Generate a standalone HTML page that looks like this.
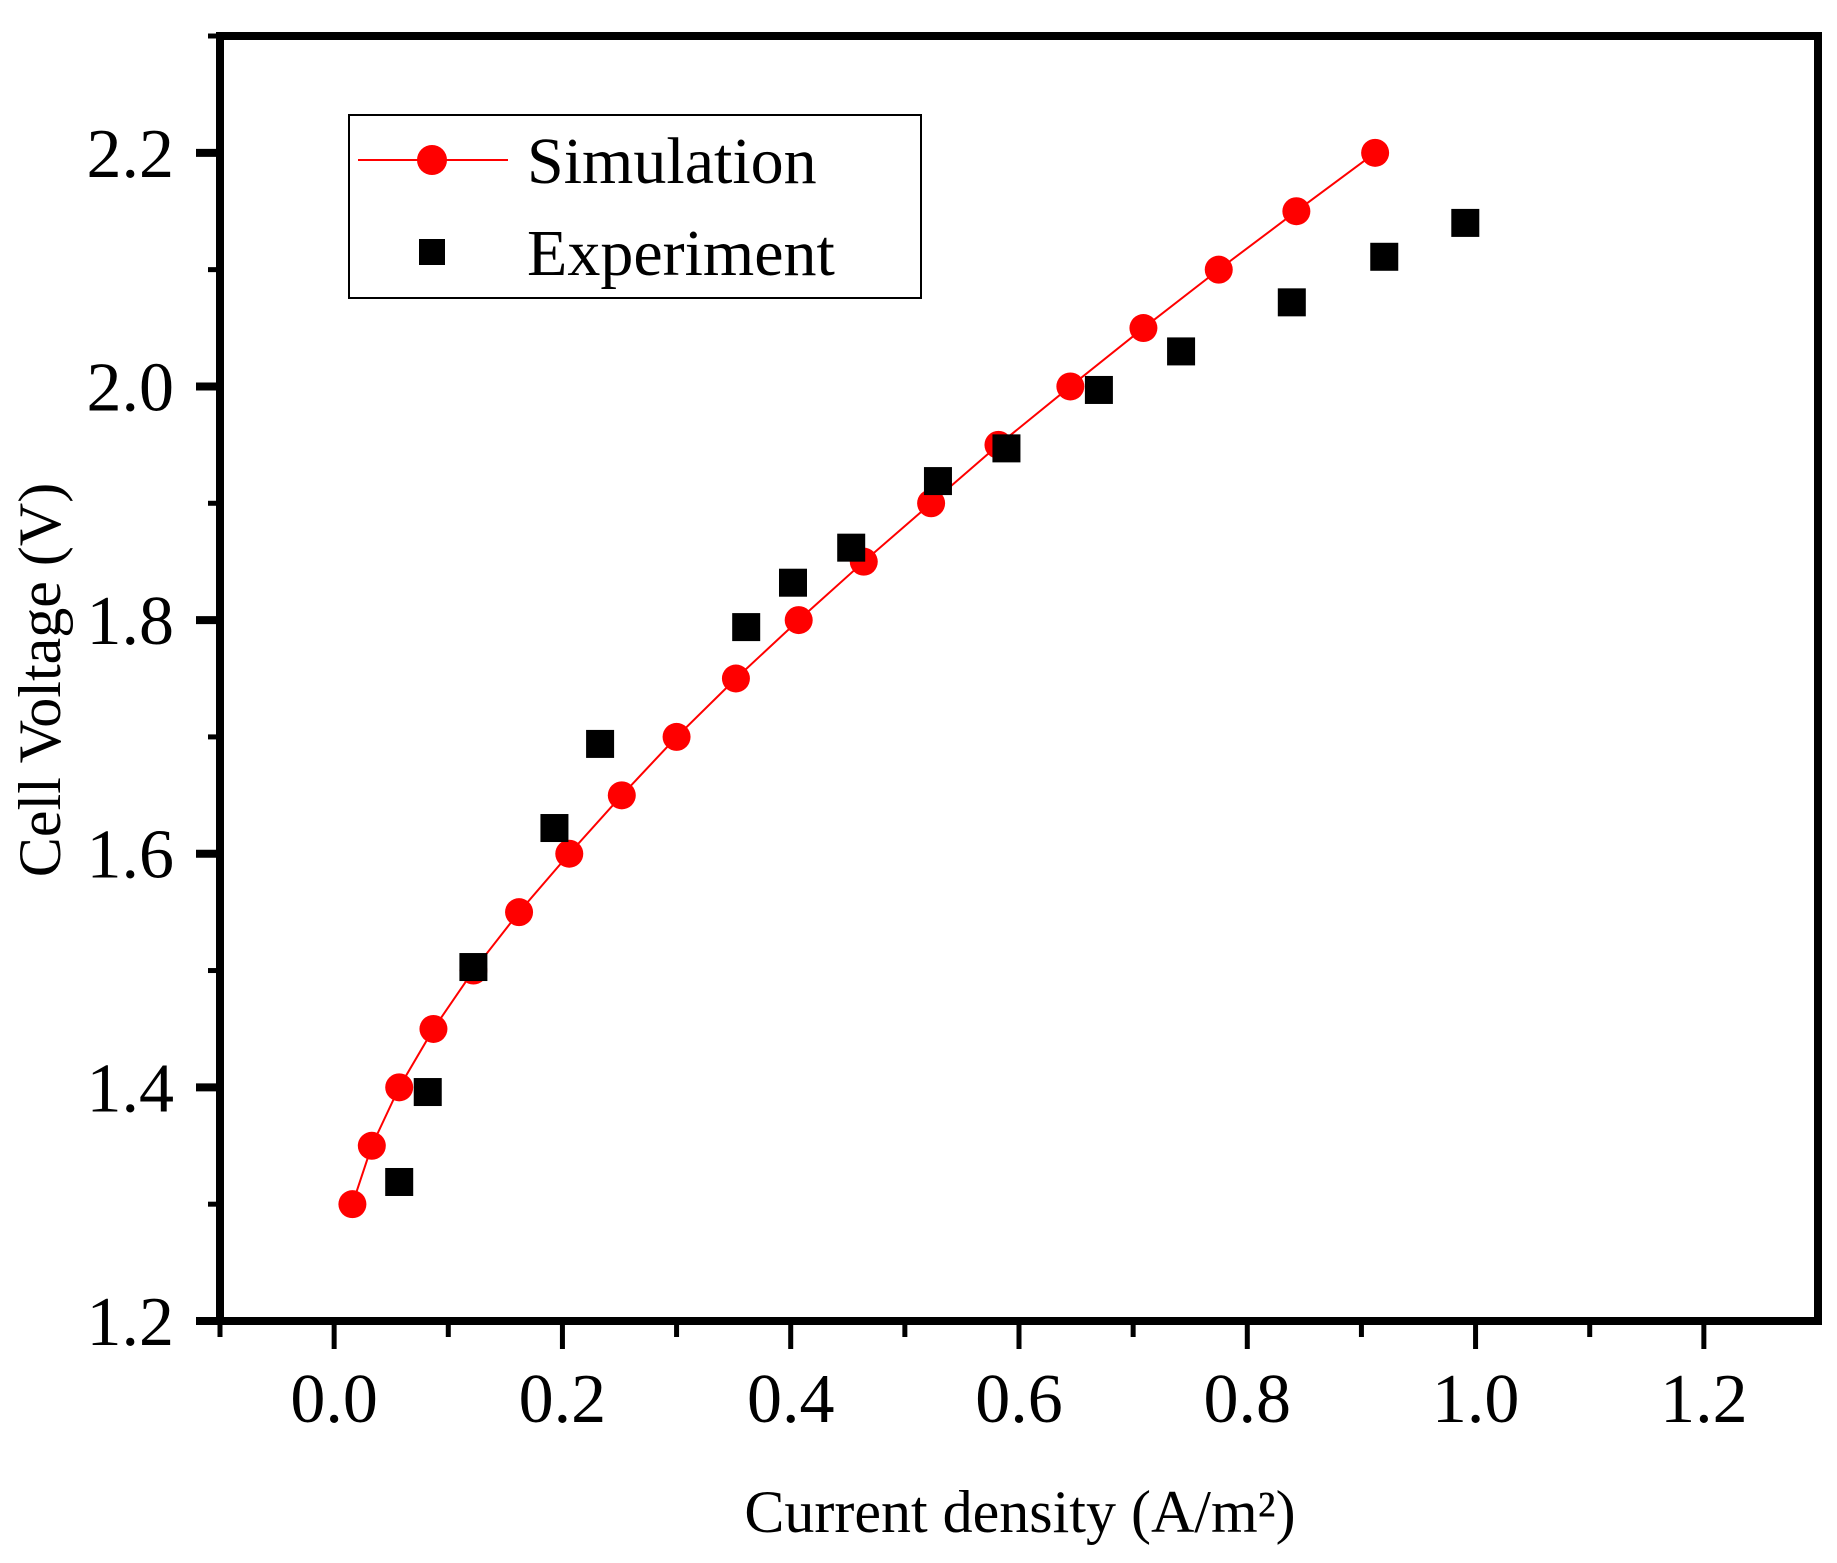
<!DOCTYPE html>
<html><head><meta charset="utf-8"><style>
html,body{margin:0;padding:0;background:#fff;}
svg{display:block;font-family:"Liberation Serif",serif;}
</style></head><body>
<svg id="chart" width="1837" height="1563" viewBox="0 0 1837 1563" xmlns="http://www.w3.org/2000/svg">
<g id="ticks"></g>
<g id="series"></g>
<rect x="220" y="36" width="1598" height="1285" fill="none" stroke="#000" stroke-width="8"/>
<text x="1020" y="1532" font-size="60" text-anchor="middle">Current density (A/m²)</text>
<text transform="translate(60,680) rotate(-90)" font-size="60" text-anchor="middle">Cell Voltage (V)</text>
<g>
<rect x="349" y="115" width="572" height="183" fill="#fff" stroke="#000" stroke-width="2"/>
<line x1="358" y1="160" x2="508" y2="160" stroke="#f00" stroke-width="2"/>
<circle cx="432" cy="160" r="15" fill="#f00"/>
<text x="527" y="183" font-size="66">Simulation</text>
<rect x="419" y="239" width="26" height="26" fill="#000"/>
<text x="527" y="275" font-size="66">Experiment</text>
</g>
</svg>
<script>
const simX=[0.016,0.033,0.057,0.087,0.122,0.162,0.206,0.252,0.300,0.352,0.407,0.464,0.523,0.582,0.645,0.709,0.775,0.843,0.912];
const simY=[1.30,1.35,1.40,1.45,1.50,1.55,1.60,1.65,1.70,1.75,1.80,1.85,1.90,1.95,2.00,2.05,2.10,2.15,2.20];
const expX=[0.057,0.082,0.122,0.193,0.233,0.361,0.402,0.453,0.529,0.589,0.670,0.742,0.839,0.920,0.991];
const expY=[1.319,1.396,1.503,1.622,1.694,1.794,1.832,1.862,1.919,1.947,1.997,2.030,2.072,2.111,2.140];
const xTicks=["0.0","0.2","0.4","0.6","0.8","1.0","1.2"];
const yTicks=["1.2","1.4","1.6","1.8","2.0","2.2"];
const NS="http://www.w3.org/2000/svg";
const X0=220,X1=1818,Y0=1321,Y1=36,xmin=-0.1,xmax=1.3,ymin=1.2,ymax=2.3;
function sx(v){return X0+(v-xmin)/(xmax-xmin)*(X1-X0);}
function sy(v){return Y0-(v-ymin)/(ymax-ymin)*(Y0-Y1);}
function mk(t,a,p){const e=document.createElementNS(NS,t);for(const k in a)e.setAttribute(k,a[k]);p.appendChild(e);return e;}
const tg=document.getElementById('ticks'),sg=document.getElementById('series');
for(let i=0;i<=13;i++){const v=-0.1+i*0.1;const x=sx(v);const major=Math.abs(Math.round(v*10))%2===0;
 const l=mk('line',{x1:x,y1:Y0,x2:x,y2:Y0+(major?28:16),stroke:'#000','stroke-width':5},tg);
 
 }
xTicks.forEach(s=>{const t=mk('text',{x:sx(parseFloat(s)),y:1422,'font-size':70,'text-anchor':'middle'},tg);t.textContent=s;
 
 });
for(let i=0;i<=11;i++){const v=1.2+i*0.1;const y=sy(v);const major=i%2===0;
 const l=mk('line',{x1:X0,y1:y,x2:X0-(major?24:12),y2:y,stroke:'#000','stroke-width':major?8:5},tg);
 
 }
yTicks.forEach(s=>{const t=mk('text',{x:174,y:sy(parseFloat(s))+24,'font-size':70,'text-anchor':'end'},tg);t.textContent=s;
 
 });
const pts=simX.map((v,i)=>sx(v)+','+sy(simY[i])).join(' ');
const pl=mk('polyline',{points:pts,fill:'none',stroke:'#f00','stroke-width':2},sg);


simX.forEach((v,i)=>{const c=mk('circle',{cx:sx(v),cy:sy(simY[i]),r:14,fill:'#f00'},sg);
 
 });
expX.forEach((v,i)=>{const r=mk('rect',{x:sx(v)-14,y:sy(expY[i])-14,width:28,height:28,fill:'#000'},sg);
 
 });
</script>
</body></html>
